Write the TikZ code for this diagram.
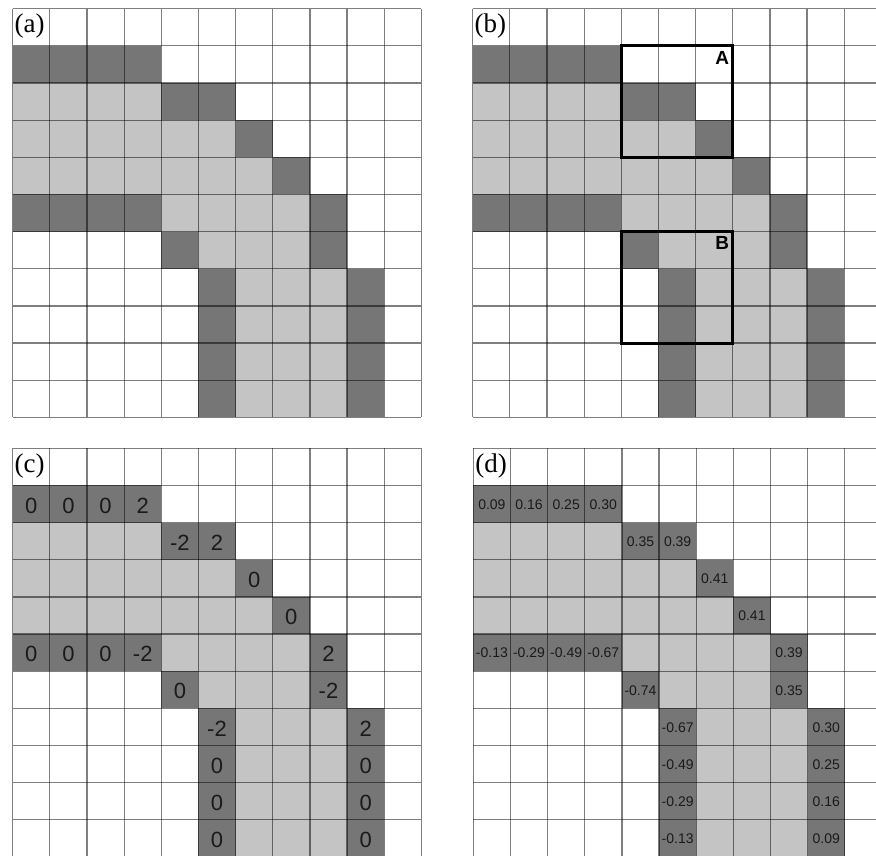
\documentclass[tikz,border=0pt]{standalone}
\usepackage{fontspec}
\setmainfont{Liberation Serif}
\newfontfamily\arialf{Liberation Sans}
\definecolor{dk}{HTML}{767676}
\definecolor{lt}{HTML}{C4C4C4}
\definecolor{txt}{HTML}{1A1A1A}
\def\cs{37.15}
\tikzset{
  gridln/.style={draw=black, draw opacity=0.5, line width=1.2pt},
  panellabel/.style={anchor=north west, fill=white, inner sep=1pt, font=\fontsize{27}{27}\selectfont},
  cnum/.style={text=txt, inner sep=0pt, font=\arialf\fontsize{22}{22}\selectfont},
  dnum/.style={text=txt, inner sep=0pt, font=\arialf\fontsize{14}{14}\selectfont},
  boxframe/.style={draw=black, line width=3pt},
  boxlabel/.style={anchor=north east, inner sep=0pt, font=\arialf\bfseries\fontsize{19}{19}\selectfont}
}
\newcommand\drawcells{%
  \foreach \c/\r in {0/1,1/1,2/1,3/1,4/2,5/2,6/3,7/4,0/5,1/5,2/5,3/5,8/5,4/6,8/6,5/7,9/7,5/8,9/8,5/9,9/9,5/10,9/10}
    \fill[dk] (\c*\cs,\r*\cs) rectangle ++(\cs,\cs);
  \foreach \c/\r in {0/2,1/2,2/2,3/2,0/3,1/3,2/3,3/3,4/3,5/3,0/4,1/4,2/4,3/4,4/4,5/4,6/4,4/5,5/5,6/5,7/5,5/6,6/6,7/6,6/7,7/7,8/7,6/8,7/8,8/8,6/9,7/9,8/9,6/10,7/10,8/10}
    \fill[lt] (\c*\cs,\r*\cs) rectangle ++(\cs,\cs);
  \foreach \i in {0,...,11} {
    \draw[gridln] (\i*\cs,0) -- (\i*\cs,11*\cs);
    \draw[gridln] (0,\i*\cs) -- (11*\cs,\i*\cs);
  }%
}
\begin{document}
\begin{tikzpicture}[x=1pt,y=-1pt]
\useasboundingbox (0,0) rectangle (876,855);
\clip (0,0) rectangle (876,855);
\fill[white] (0,0) rectangle (876,855);
% panel (a)
\begin{scope}[shift={(12.7,8.7)}]
  \drawcells
  \node[panellabel] (la) at (0.8,4) {(a)};
\end{scope}
% panel (b)
\begin{scope}[shift={(472.7,8.7)}]
  \drawcells
  \node[panellabel] (lb) at (0.8,4) {(b)};
  \draw[boxframe] (4*\cs,1*\cs) rectangle (7*\cs,4*\cs);
  \draw[boxframe] (4*\cs,6*\cs) rectangle (7*\cs,9*\cs);
  \node[boxlabel] (boxA) at (7*\cs-3.5,1*\cs+5) {A};
  \node[boxlabel] (boxB) at (7*\cs-3.5,6*\cs+5) {B};
\end{scope}
% panel (c)
\begin{scope}[shift={(12.7,448.3)}]
  \drawcells
  \node[panellabel] (lc) at (0.8,4) {(c)};
  \foreach \c/\r/\v in {0/1/0,1/1/0,2/1/0,3/1/2,4/2/-2,5/2/2,6/3/0,7/4/0,0/5/0,1/5/0,2/5/0,3/5/-2,8/5/2,4/6/0,8/6/-2,5/7/-2,9/7/2,5/8/0,9/8/0,5/9/0,9/9/0,5/10/0,9/10/0}
    \node[cnum] (c-\r-\c) at ({(\c+0.5)*\cs},{(\r+0.5)*\cs+1.5}) {\v};
\end{scope}
% panel (d)
\begin{scope}[shift={(473.3,448.3)}]
  \drawcells
  \node[panellabel] (ld) at (0.8,4) {(d)};
  \foreach \c/\r/\v in {0/1/0.09,1/1/0.16,2/1/0.25,3/1/0.30,4/2/0.35,5/2/0.39,6/3/0.41,7/4/0.41,0/5/-0.13,1/5/-0.29,2/5/-0.49,3/5/-0.67,8/5/0.39,4/6/-0.74,8/6/0.35,5/7/-0.67,9/7/0.30,5/8/-0.49,9/8/0.25,5/9/-0.29,9/9/0.16,5/10/-0.13,9/10/0.09}
    \node[dnum] (d-\r-\c) at ({(\c+0.5)*\cs},{(\r+0.5)*\cs+0.5}) {\v};
\end{scope}
\end{tikzpicture}
\end{document}
